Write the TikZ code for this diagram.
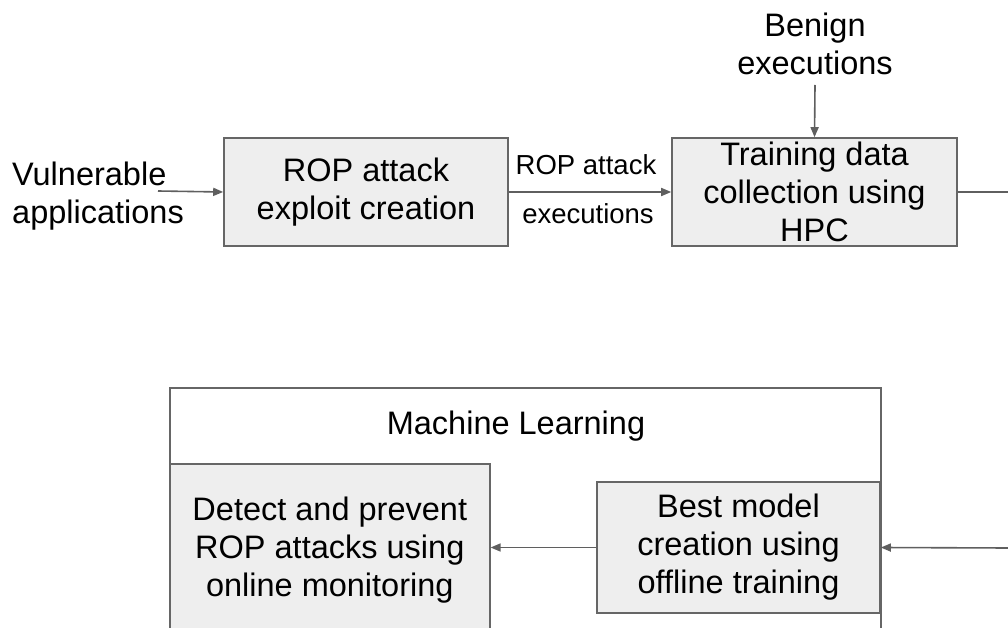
\documentclass[tikz,border=0pt]{standalone}
\usepackage{fontspec}
\setmainfont{Liberation Sans}
\usetikzlibrary{arrows.meta}
\definecolor{boxfill}{HTML}{EEEEEE}
\definecolor{boxline}{HTML}{666666}
\definecolor{arrline}{HTML}{5F5F5F}
\tikzset{
  bigtext/.style={font=\fontsize{32.5}{38}\selectfont},
  procbox/.style={bigtext, draw=boxline, line width=1.6pt, fill=boxfill, align=center, inner sep=0pt},
  plaintext/.style={bigtext, align=center, inner sep=0pt},
  smalltext/.style={font=\fontsize{27.5}{32}\selectfont, inner sep=0pt},
  conn/.style={draw=arrline, line width=1.6pt},
  arr/.style={conn, -{Triangle[length=10pt,width=8pt]}},
}
\begin{document}
\begin{tikzpicture}[x=1pt,y=-1pt]
\useasboundingbox (0,0) rectangle (1008,628);
\clip (0,0) rectangle (1008,628);

% top row
\node[plaintext, align=left, anchor=west] (vuln) at (12,196) {Vulnerable\\applications};
\node[procbox, minimum width=284pt, minimum height=108pt] (rop) at (366,192) {ROP attack\\exploit creation};
\node[procbox, minimum width=285pt, minimum height=108pt] (train) at (814.5,192) {Training data\\collection using\\HPC};
\node[plaintext] (benign) at (815,44) {Benign\\executions};
\node[smalltext, anchor=base] (lblA) at (586,175) {ROP attack};
\node[smalltext, anchor=base] (lblB) at (588,223) {executions};

\coordinate (vs) at (158,191);
\coordinate (bs) at (815,85);
\coordinate (outR) at (1010,192);
\coordinate (inR) at (1010,548);

\draw[arr] (vs) -- (rop.west);
\draw[arr] (rop.east) -- (train.west);
\draw[arr] (bs) -- (train.north);
\draw[conn] (train.east) -- (outR);

% bottom
\node[draw=boxline, line width=1.6pt, fill=white, anchor=north west, minimum width=711pt, minimum height=300pt, inner sep=0pt] (ml) at (169,387) {};
\node[bigtext, anchor=base, inner sep=0pt] (mltitle) at (516,434) {Machine Learning};
\node[procbox, anchor=north west, minimum width=320pt, minimum height=172pt] (detect) at (169,463) {Detect and prevent\\ROP attacks using\\online monitoring};
\node[procbox, minimum width=283pt, minimum height=131pt] (best) at (738.5,547.5) {Best model\\creation using\\offline training};

\draw[arr] (inR) -- (best.east);
\draw[arr] (best.west) -- (best.west -| detect.east);
\end{tikzpicture}
\end{document}
